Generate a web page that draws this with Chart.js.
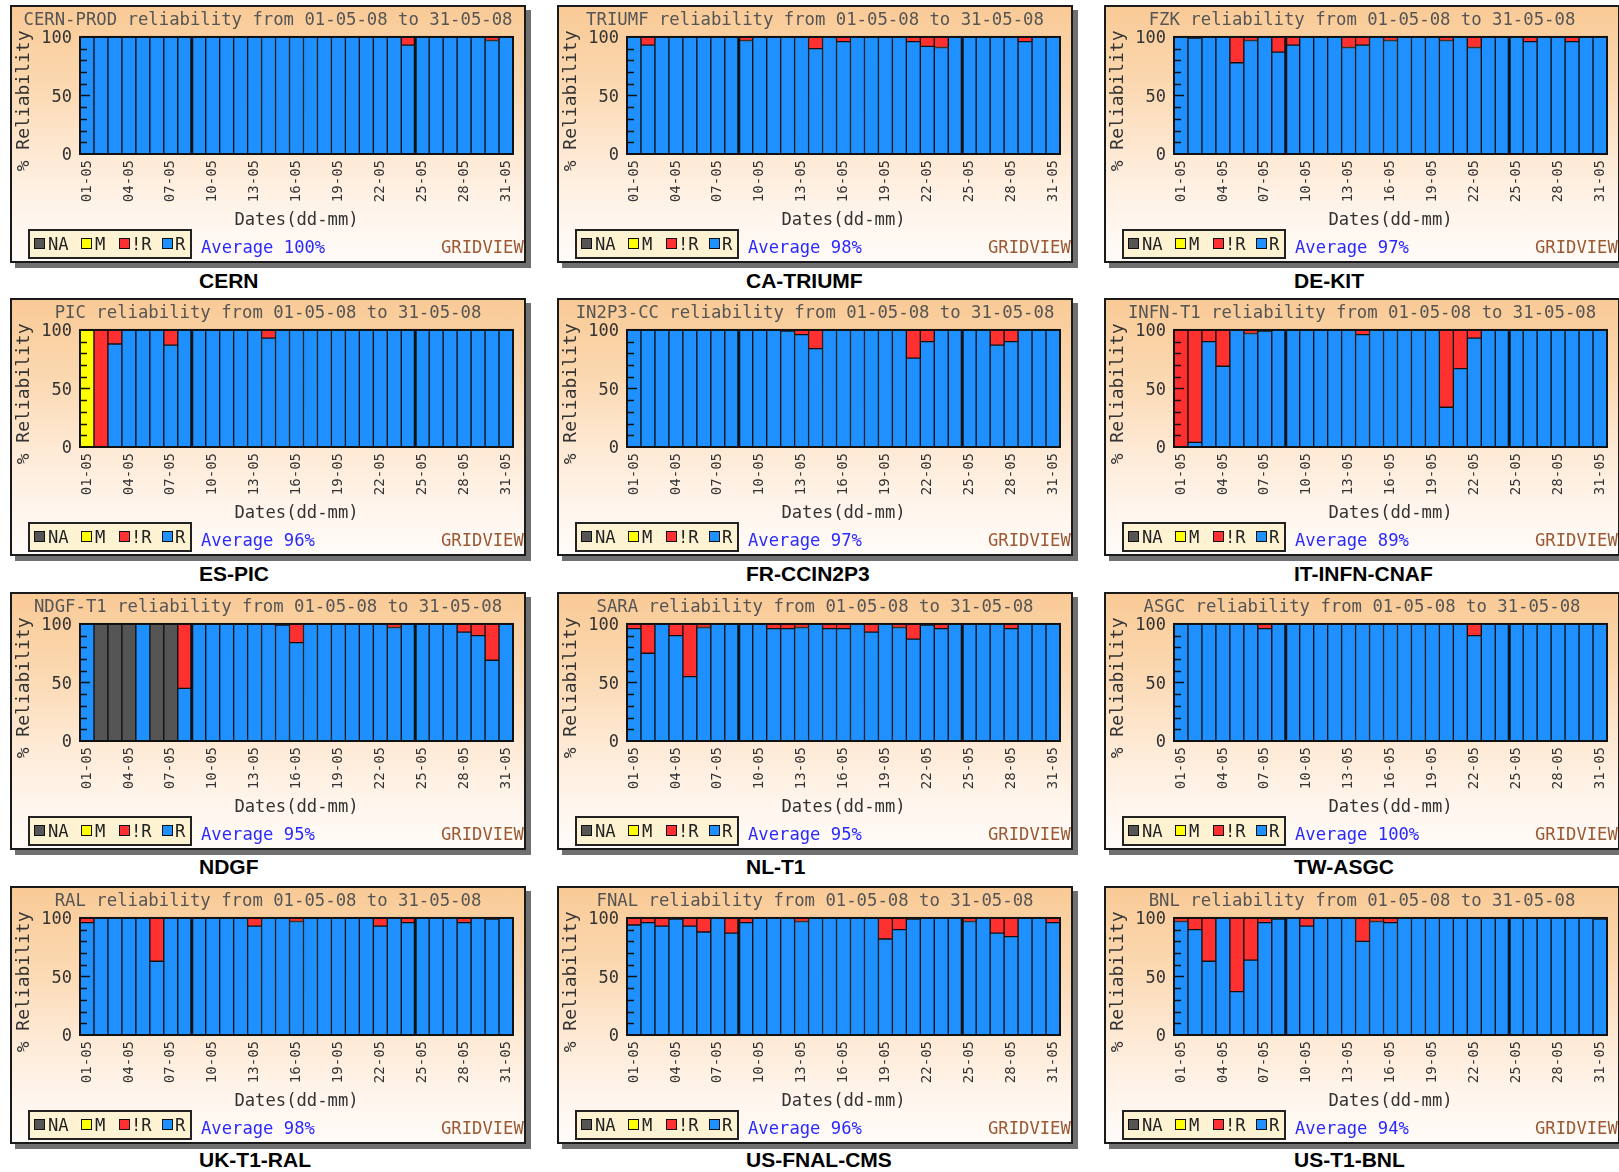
<!DOCTYPE html>
<html>
<head>
<meta charset="utf-8">
<title>Tier-1 reliability May 2008</title>
<script src="https://cdn.jsdelivr.net/npm/chart.js@4.4.0/dist/chart.umd.min.js"></script>
<style>
  body { margin: 0; background: #fff; width: 1619px; height: 1172px; position: relative; overflow: hidden; }
  .panel {
    position: absolute; width: 516px; height: 258px; box-sizing: border-box;
    border: 2px solid #1a1a1a; box-shadow: 5px 5px 0 #707070; overflow: hidden;
    background: linear-gradient(to bottom, #f9ca96 0%, #fbd8b0 30%, #feead6 60%, #fff5ec 82%, #fffbf8 100%);
  }
  .panel canvas { position: absolute; left: 0; top: 0; }
  .mono { font-family: 'DejaVu Sans Mono', monospace; }
  .legend { position: absolute; left: 16px; top: 222px; width: 164px; height: 30px; box-sizing: border-box; border: 2px solid #222; background: #fdf3d2; }
  .legend .sq { position: absolute; top: 7px; width: 11px; height: 11px; box-sizing: border-box; border: 1px solid #111; }
  .legend .lb { position: absolute; top: 3px; font-size: 17.2px; line-height: 20px; color: #222; }
  .avg { position: absolute; left: 189px; top: 230px; font-size: 17.2px; line-height: 20px; color: #2a2aff; white-space: nowrap; }
  .brand { position: absolute; left: 429px; top: 230px; font-size: 17.2px; line-height: 20px; color: #9b5a34; white-space: nowrap; }
  .caption { position: absolute; font: bold 21px 'Liberation Sans', Arial, sans-serif; line-height: 24px; color: #000; white-space: nowrap; }
</style>
</head>
<body>
<script>
// Day labels (dd-mm)
const days = ['01-05','02-05','03-05','04-05','05-05','06-05','07-05','08-05','09-05','10-05',
  '11-05','12-05','13-05','14-05','15-05','16-05','17-05','18-05','19-05','20-05',
  '21-05','22-05','23-05','24-05','25-05','26-05','27-05','28-05','29-05','30-05','31-05'];

const siteNames = ['CERN-PROD','TRIUMF','FZK','PIC','IN2P3-CC','INFN-T1','NDGF-T1','SARA','ASGC','RAL','FNAL','BNL'];
const captions = ['CERN','CA-TRIUMF','DE-KIT','ES-PIC','FR-CCIN2P3','IT-INFN-CNAF','NDGF','NL-T1','TW-ASGC','UK-T1-RAL','US-FNAL-CMS','US-T1-BNL'];
const averages = [100, 98, 97, 96, 97, 89, 95, 95, 100, 98, 96, 94];

// R = reliable (blue), notR = unreliable (red), M = maintenance, NA = not available
const cernR = [100,100,100,100,100,100,100,100,100,100, 100,100,100,100,100,100,100,100,100,100, 100,100,100,93,100,100,100,100,100,97, 100];
const cernNotR = [0,0,0,0,0,0,0,0,0,0, 0,0,0,0,0,0,0,0,0,0, 0,0,0,7,0,0,0,0,0,3, 0];

const triumfR = [100,93,100,100,100,100,100,100,97,100, 100,100,100,90,100,96,100,100,100,100, 96,92,91,100,100,100,100,100,96,100, 100];
const triumfNotR = [0,7,0,0,0,0,0,0,3,0, 0,0,0,10,0,4,0,0,0,0, 4,8,9,0,0,0,0,0,4,0, 0];

const fzkR = [100,99,100,100,78,97,100,87,93,100, 100,100,91,93,100,97,100,100,100,97, 100,91,100,100,100,96,100,100,96,100, 100];
const fzkNotR = [0,1,0,0,22,3,0,13,7,0, 0,0,9,7,0,3,0,0,0,3, 0,9,0,0,0,4,0,0,4,0, 0];

const picR = [0,0,88,100,100,100,87,100,100,100, 100,100,100,93,100,100,100,100,100,100, 100,100,100,100,100,100,100,100,100,100, 100];
const picNotR = [0,100,12,0,0,0,13,0,0,0, 0,0,0,7,0,0,0,0,0,0, 0,0,0,0,0,0,0,0,0,0, 0];
const picM = [100,0,0,0,0,0,0,0,0,0, 0,0,0,0,0,0,0,0,0,0, 0,0,0,0,0,0,0,0,0,0, 0];

const in2p3R = [100,100,100,100,100,100,100,100,100,100, 100,99,96,84,100,100,100,100,100,100, 76,90,100,100,100,100,87,90,100,100, 100];
const in2p3NotR = [0,0,0,0,0,0,0,0,0,0, 0,1,4,16,0,0,0,0,0,0, 24,10,0,0,0,0,13,10,0,0, 0];

const infnR = [0,4,90,69,100,97,99,100,100,100, 100,100,100,96,100,100,100,100,100,34, 67,93,100,100,100,100,100,100,100,100, 100];
const infnNotR = [100,96,10,31,0,3,1,0,0,0, 0,0,0,4,0,0,0,0,0,66, 33,7,0,0,0,0,0,0,0,0, 0];

const ndgfR = [100,0,0,0,100,0,0,45,100,100, 100,100,100,100,99,84,100,100,100,100, 100,100,97,100,100,100,100,93,90,69, 100];
const ndgfNotR = [0,0,0,0,0,0,0,55,0,0, 0,0,0,0,1,16,0,0,0,0, 0,0,3,0,0,0,0,7,10,31, 0];
const ndgfNA = [0,100,100,100,0,100,100,0,0,0, 0,0,0,0,0,0,0,0,0,0, 0,0,0,0,0,0,0,0,0,0, 0];

const saraR = [96,75,100,90,55,97,100,100,100,100, 96,96,97,100,96,96,100,93,100,97, 87,99,96,100,100,100,100,96,100,100, 100];
const saraNotR = [4,25,0,10,45,3,0,0,0,0, 4,4,3,0,4,4,0,7,0,3, 13,1,4,0,0,0,0,4,0,0, 0];

const asgcR = [100,100,100,100,100,100,96,100,100,100, 100,100,100,100,100,100,100,100,100,100, 100,90,100,100,100,100,100,100,100,100, 100];
const asgcNotR = [0,0,0,0,0,0,4,0,0,0, 0,0,0,0,0,0,0,0,0,0, 0,10,0,0,0,0,0,0,0,0, 0];

const ralR = [96,100,100,100,100,63,100,100,100,100, 100,100,93,100,100,97,100,100,100,100, 100,93,100,96,100,100,100,96,100,99, 100];
const ralNotR = [4,0,0,0,0,37,0,0,0,0, 0,0,7,0,0,3,0,0,0,0, 0,7,0,4,0,0,0,4,0,1, 0];

const fnalR = [94,96,93,99,93,88,100,87,96,100, 100,100,97,100,100,100,100,100,82,90, 99,100,100,100,97,100,87,84,100,100, 96];
const fnalNotR = [6,4,7,1,7,12,0,13,4,0, 0,0,3,0,0,0,0,0,18,10, 1,0,0,0,3,0,13,16,0,0, 4];

const bnlR = [97,90,63,100,37,64,96,99,100,93, 100,100,100,80,97,96,100,100,100,100, 100,100,100,100,100,100,100,100,100,100, 99];
const bnlNotR = [3,10,37,0,63,36,4,1,0,7, 0,0,0,20,3,4,0,0,0,0, 0,0,0,0,0,0,0,0,0,0, 1];

const none = [];
const sites = [
  [cernR, cernNotR, none, none],
  [triumfR, triumfNotR, none, none],
  [fzkR, fzkNotR, none, none],
  [picR, picNotR, picM, none],
  [in2p3R, in2p3NotR, none, none],
  [infnR, infnNotR, none, none],
  [ndgfR, ndgfNotR, none, ndgfNA],
  [saraR, saraNotR, none, none],
  [asgcR, asgcNotR, none, none],
  [ralR, ralNotR, none, none],
  [fnalR, fnalNotR, none, none],
  [bnlR, bnlNotR, none, none]
];

const seriesNames = ['R', '!R', 'M', 'NA'];
const seriesColors = ['#1e90ff', '#ff3030', '#ffff00', '#555555'];
const legendOrder = [3, 2, 1, 0];

const mono = "'DejaVu Sans Mono', monospace";

// Grid of panels
const colLefts = [10, 557, 1104];
const captionLefts = [199, 746, 1294];
const rowTops = [5, 298, 592, 886];
const captionCenters = [281, 574, 867, 1160];

// Plot frame, week separators and the small ticks inside the left edge
const framePlugin = {
  id: 'frame',
  afterDatasetsDraw(chart) {
    const { ctx, chartArea: a, scales: { x, y } } = chart;
    ctx.save();
    ctx.strokeStyle = '#111';
    ctx.lineWidth = 3;
    [8, 24].forEach(i => {
      const px = (x.getPixelForValue(i - 1) + x.getPixelForValue(i)) / 2;
      ctx.beginPath();
      ctx.moveTo(px, a.top);
      ctx.lineTo(px, a.bottom);
      ctx.stroke();
    });
    ctx.lineWidth = 1.5;
    for (let v = 10; v < 100; v += 10) {
      const py = Math.round(y.getPixelForValue(v)) + 0.5;
      ctx.beginPath();
      ctx.moveTo(a.left, py);
      ctx.lineTo(a.left + (v === 50 ? 10 : 7), py);
      ctx.stroke();
    }
    ctx.lineWidth = 2;
    ctx.strokeRect(a.left, a.top, a.right - a.left, a.bottom - a.top);
    ctx.restore();
  }
};

function buildPanel(k) {
  const col = k % 3;
  const row = Math.floor(k / 3);

  const panel = document.createElement('div');
  panel.className = 'panel';
  panel.style.left = colLefts[col] + 'px';
  panel.style.top = rowTops[row] + 'px';
  document.body.appendChild(panel);

  const canvas = document.createElement('canvas');
  canvas.width = 512;
  canvas.height = 224;
  canvas.style.width = '512px';
  canvas.style.height = '224px';
  panel.appendChild(canvas);

  // legend box
  const legend = document.createElement('div');
  legend.className = 'legend mono';
  const sqPos = [4, 51, 89, 132];
  const lbPos = [18, 65, 101, 145];
  legendOrder.forEach((s, j) => {
    const sq = document.createElement('div');
    sq.className = 'sq';
    sq.style.left = sqPos[j] + 'px';
    sq.style.background = seriesColors[s];
    legend.appendChild(sq);
    const lb = document.createElement('div');
    lb.className = 'lb';
    lb.style.left = lbPos[j] + 'px';
    lb.textContent = seriesNames[s];
    legend.appendChild(lb);
  });
  panel.appendChild(legend);

  const avg = document.createElement('div');
  avg.className = 'avg mono';
  avg.textContent = 'Average ' + averages[k] + '%';
  panel.appendChild(avg);

  const brand = document.createElement('div');
  brand.className = 'brand mono';
  brand.textContent = 'GRIDVIEW';
  panel.appendChild(brand);

  const cap = document.createElement('div');
  cap.className = 'caption';
  cap.style.left = captionLefts[col] + 'px';
  cap.style.top = (captionCenters[row] - 12) + 'px';
  cap.textContent = captions[k];
  document.body.appendChild(cap);

  const datasets = sites[k].map((values, s) => ({
    label: seriesNames[s],
    data: days.map((d, i) => (values[i] ? values[i] : null)),
    backgroundColor: seriesColors[s],
    borderColor: '#111',
    borderWidth: 1,
    borderSkipped: false,
    categoryPercentage: 1,
    barPercentage: 1
  }));

  new Chart(canvas.getContext('2d'), {
    type: 'bar',
    data: { labels: days, datasets: datasets },
    options: {
      responsive: false,
      animation: false,
      layout: { padding: 0 },
      plugins: {
        legend: { display: false },
        tooltip: { enabled: false },
        title: {
          display: true,
          text: siteNames[k] + ' reliability from 01-05-08 to 31-05-08',
          color: '#555',
          font: { family: mono, size: 17.3, weight: 'normal' },
          padding: { top: 3.6, bottom: 5.6 }
        }
      },
      scales: {
        x: {
          stacked: true,
          grid: { display: false, drawTicks: false },
          border: { display: false },
          ticks: {
            autoSkip: false,
            minRotation: 90,
            maxRotation: 90,
            padding: 6,
            color: '#333',
            font: { family: mono, size: 14 },
            callback: (v, i) => (i % 3 === 0 ? days[i] : '')
          },
          title: {
            display: true,
            text: 'Dates(dd-mm)',
            color: '#333',
            font: { family: mono, size: 17.2 },
            padding: 0
          },
          afterFit: s => { s.height = 77; s.paddingRight = 11; }
        },
        y: {
          stacked: true,
          min: 0,
          max: 100,
          grid: { display: false, drawTicks: false },
          border: { display: false },
          ticks: { stepSize: 50, padding: 8, labelOffset: 2, color: '#333', font: { family: mono, size: 17 } },
          title: {
            display: true,
            text: '% Reliability ',
            color: '#333',
            font: { family: mono, size: 18 },
            padding: { top: 2, bottom: 0 }
          },
          afterFit: s => { s.width = 68; }
        }
      }
    },
    plugins: [framePlugin]
  });
}

document.addEventListener('DOMContentLoaded', function() {
  for (let k = 0; k < siteNames.length; k++) {
    buildPanel(k);
  }
});
</script>
</body>
</html>
